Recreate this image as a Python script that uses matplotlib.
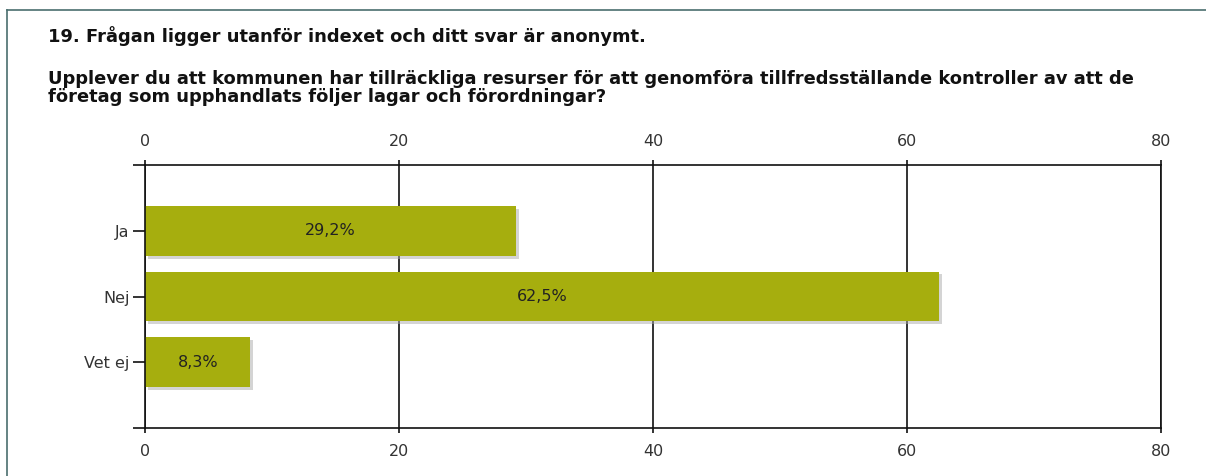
import matplotlib
matplotlib.use("Agg")
import matplotlib.pyplot as plt
import matplotlib.patheffects as pe

categories = ["Ja", "Nej", "Vet ej"]
values = [29.2, 62.5, 8.3]
labels = ["29,2%", "62,5%", "8,3%"]
xticks = [0, 20, 40, 60, 80]

title1 = "19. Frågan ligger utanför indexet och ditt svar är anonymt."
title2 = "Upplever du att kommunen har tillräckliga resurser för att genomföra tillfredsställande kontroller av att de"
title3 = "företag som upphandlats följer lagar och förordningar?"

W, H = 1206, 476
fig = plt.figure(figsize=(W / 100, H / 100), dpi=100)

# frame border
fig.add_artist(plt.Line2D([7 / W, 1.0], [1 - 10 / H, 1 - 10 / H], color="#4a6e6e", lw=1.2))
fig.add_artist(plt.Line2D([7 / W, 7 / W], [0, 1 - 10 / H], color="#4a6e6e", lw=1.2))

tkw = dict(fontsize=12.85, fontweight="bold", family="DejaVu Sans", color="#111111", va="baseline")
fig.text(48 / W, 1 - 42 / H, title1, **tkw)
fig.text(48 / W, 1 - 84 / H, title2, **tkw)
fig.text(48 / W, 1 - 102 / H, title3, **tkw)

left, right, top, bottom = 145, 1161, 165, 428
ax = fig.add_axes([left / W, 1 - bottom / H, (right - left) / W, (bottom - top) / H])

pos = [1, 2, 3]
bar_h = 0.76
shadow = [pe.SimplePatchShadow(offset=(2, -2), shadow_rgbFace="#aaaaaa", alpha=0.5), pe.Normal()]
bars = ax.barh(pos, values, height=bar_h, color="#a6ae0e", edgecolor="none")
for b in bars:
    b.set_path_effects(shadow)
for p, v, lab in zip(pos, values, labels):
    ax.text(v / 2, p, lab, ha="center", va="center", fontsize=11.5, family="DejaVu Sans", color="#222222")

ax.set_xlim(0, 80)
ax.set_ylim(4, 0)
ax.set_xticks(xticks)
ax.set_yticks([0] + pos + [4])
ax.set_yticklabels([""] + categories + [""])
ax.xaxis.set_tick_params(top=True, labeltop=True, bottom=True, labelbottom=True,
                         length=3.5, width=1.2, color="#111111", pad=8, direction="out")
ax.yaxis.set_tick_params(length=9, width=1.2, color="#111111", pad=2)
for t in ax.get_xticklabels() + ax.get_yticklabels():
    t.set_fontsize(11.5)
    t.set_family("DejaVu Sans")
    t.set_color("#333333")
ax.grid(axis="x", color="#111111", lw=1.2)
ax.set_axisbelow(True)
for s in ["top", "bottom", "left", "right"]:
    ax.spines[s].set_color("#111111")
    ax.spines[s].set_linewidth(1.2)

fig.savefig("out.png", dpi=100)
